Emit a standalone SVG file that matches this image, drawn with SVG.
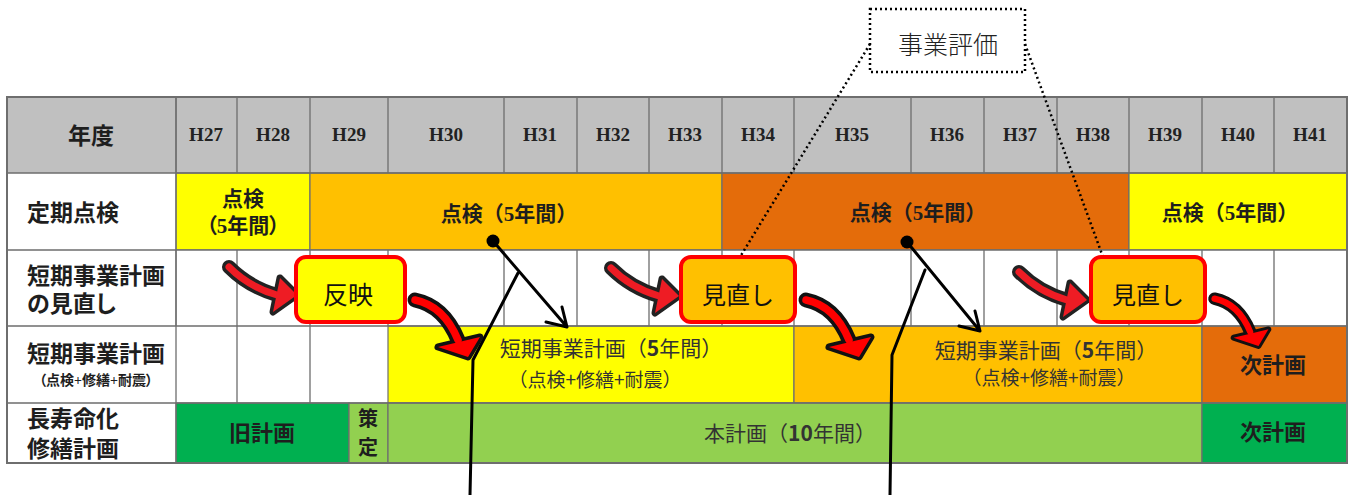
<svg xmlns="http://www.w3.org/2000/svg" xmlns:xlink="http://www.w3.org/1999/xlink" width="1351" height="495" viewBox="0 0 1351 495">
<style>
.bg{fill:#ffffff}
.cell{stroke:#6e6e6e;stroke-width:1.2}
.grid{stroke:#6e6e6e;stroke-width:1.3;fill:none}
.gray{fill:#c0c0c0}
.yel{fill:#ffff00}
.org{fill:#ffc000}
.dor{fill:#e46c0a}
.dgr{fill:#00b050}
.lgr{fill:#92d050}
.wht{fill:#ffffff}
.hdr{font-family:"Liberation Serif",serif;font-size:19px;font-weight:bold;fill:#222;text-anchor:middle}
.lbl{font-family:"Liberation Serif","Noto Sans CJK JP",serif;font-weight:bold;font-size:23px;fill:#1e1e1e;font-feature-settings:"palt"}
.blk{font-family:"Liberation Serif","Noto Sans CJK JP",serif;font-weight:bold;font-size:21px;fill:#1e1e1e;text-anchor:middle}
.palt{font-feature-settings:"palt"}
.sans{font-family:"Noto Sans CJK JP",sans-serif;fill:#333;text-anchor:middle}
.box{stroke:#ff0000;stroke-width:4}
.boxt{font-family:"Noto Sans CJK JP",sans-serif;font-size:24px;fill:#111;text-anchor:middle}
.ln{stroke:#000;stroke-width:3;fill:none;stroke-linejoin:round;stroke-linecap:round}
.dot{stroke:#000;stroke-width:2.5;fill:none;stroke-dasharray:2 3}
</style>
<defs>
<g id="sArrow">
<path d="M4 2 Q24 22 52 30" fill="none" stroke="#222" stroke-width="14" stroke-linecap="round"/>
<polygon points="55,13 72,30 48,47" fill="#222" stroke="#222" stroke-width="7" stroke-linejoin="round"/>
<path d="M4 2 Q24 22 52 30" fill="none" stroke="#ee1c24" stroke-width="7" stroke-linecap="round"/>
<polygon points="55,13 72,30 48,47" fill="#ee1c24"/>
</g>
<g id="bArrow">
<path d="M3 2 Q32 8 46 42" fill="none" stroke="#111" stroke-width="15" stroke-linecap="round"/>
<polygon points="26,49 68,39 56,59" fill="#111" stroke="#111" stroke-width="7" stroke-linejoin="round"/>
<path d="M3 2 Q32 8 46 42" fill="none" stroke="#ff0000" stroke-width="7.5" stroke-linecap="round"/>
<polygon points="26,49 68,39 56,59" fill="#ff0000"/>
</g>
</defs>
<rect class="bg" x="0" y="0" width="1351" height="495"/>

<g id="header">
<rect class="gray" x="7" y="97" width="1340" height="76"/>
<text class="lbl" x="91" y="144" text-anchor="middle">年度</text>
<text class="hdr" x="206" y="141">H27</text>
<text class="hdr" x="273" y="141">H28</text>
<text class="hdr" x="349" y="141">H29</text>
<text class="hdr" x="446" y="141">H30</text>
<text class="hdr" x="540" y="141">H31</text>
<text class="hdr" x="613" y="141">H32</text>
<text class="hdr" x="685" y="141">H33</text>
<text class="hdr" x="758" y="141">H34</text>
<text class="hdr" x="852" y="141">H35</text>
<text class="hdr" x="947" y="141">H36</text>
<text class="hdr" x="1020" y="141">H37</text>
<text class="hdr" x="1093" y="141">H38</text>
<text class="hdr" x="1165" y="141">H39</text>
<text class="hdr" x="1238" y="141">H40</text>
<text class="hdr" x="1310" y="141">H41</text>
<path class="grid" d="M176 97V173M237 97V173M310 97V173M388 97V173M504 97V173M577 97V173M649 97V173M722 97V173M794 97V173M911 97V173M984 97V173M1057 97V173M1129 97V173M1202 97V173M1274 97V173"/>
</g>

<g id="row-teiki">
<text class="lbl" x="27" y="221">定期点検</text>
<g id="teiki-1">
<rect class="yel cell" x="176" y="173" width="134" height="77"/>
<text class="blk palt" x="243" y="206">点検</text>
<text class="blk palt" x="243" y="233">（5年間）</text>
</g>
<g id="teiki-2">
<rect class="org cell" x="310" y="173" width="412" height="77"/>
<text class="blk" x="509" y="221">点検（5年間）</text>
</g>
<g id="teiki-3">
<rect class="dor cell" x="722" y="173" width="407" height="77"/>
<text class="blk" x="918" y="220">点検（5年間）</text>
</g>
<g id="teiki-4">
<rect class="yel cell" x="1129" y="173" width="218" height="77"/>
<text class="blk" x="1230" y="220">点検（5年間）</text>
</g>
</g>

<g id="row-minaoshi">
<text class="lbl" x="27" y="284">短期事業計画</text>
<text class="lbl" x="27" y="312">の見直し</text>
<rect class="wht" x="176" y="250" width="1171" height="76"/>
<path class="grid" d="M176 250V326M237 250V326M310 250V326M388 250V326M504 250V326M577 250V326M649 250V326M722 250V326M794 250V326M911 250V326M984 250V326M1057 250V326M1129 250V326M1202 250V326M1274 250V326"/>
</g>

<g id="row-tanki">
<text class="lbl" x="27" y="362">短期事業計画</text>
<text class="lbl" x="96" y="385" text-anchor="middle" style="font-size:14px">（点検+修繕+耐震）</text>
<rect class="wht" x="176" y="326" width="212" height="77"/>
<path class="grid" d="M237 326V403M310 326V403"/>
<g id="tanki-1">
<rect class="yel cell" x="388" y="326" width="406" height="77"/>
<text class="sans" x="611" y="356" style="font-size:21px">短期事業計画（<tspan font-weight="bold">5</tspan>年間）</text>
<text class="sans" x="595" y="387" style="font-size:19px">（点検+修繕+耐震）</text>
</g>
<g id="tanki-2">
<rect class="org cell" x="794" y="326" width="408" height="77"/>
<text class="sans" x="1046" y="358" style="font-size:21px">短期事業計画（<tspan font-weight="bold">5</tspan>年間）</text>
<text class="sans" x="1049" y="385" style="font-size:19px">（点検+修繕+耐震）</text>
</g>
<g id="tanki-3">
<rect class="dor cell" x="1202" y="326" width="145" height="77"/>
<text class="blk" x="1273" y="373" style="font-size:22px">次計画</text>
</g>
</g>

<g id="row-chouju">
<text class="lbl" x="27" y="427">長寿命化</text>
<text class="lbl" x="27" y="457">修繕計画</text>
<g id="chouju-old">
<rect class="dgr cell" x="176" y="403" width="173" height="60"/>
<text class="blk" x="262" y="441" style="font-size:22px">旧計画</text>
</g>
<g id="chouju-sakutei">
<rect class="lgr cell" x="349" y="403" width="39" height="60"/>
<text class="blk" x="368" y="426" style="font-size:20px">策</text>
<text class="blk" x="368" y="455" style="font-size:20px">定</text>
</g>
<g id="chouju-main">
<rect class="lgr cell" x="388" y="403" width="814" height="60"/>
<text class="sans" x="790" y="441" style="font-size:21px">本計画（<tspan font-weight="bold">10</tspan>年間）</text>
</g>
<g id="chouju-next">
<rect class="dgr cell" x="1202" y="403" width="145" height="60"/>
<text class="blk" x="1273" y="440" style="font-size:22px">次計画</text>
</g>
</g>

<g id="table-lines">
<path class="grid" d="M7 173H1347M7 250H1347M7 326H1347M7 403H1347M176 97V463"/>
<rect x="7" y="97" width="1340" height="366" fill="none" stroke="#6e6e6e" stroke-width="2"/>
</g>

<g id="connectors">
<line class="dot" x1="870" y1="44" x2="740" y2="257"/>
<line class="dot" x1="1025" y1="44" x2="1103" y2="257"/>
<circle cx="493" cy="241" r="6.5" fill="#000"/>
<path class="ln" d="M493 241L567 327M546 322L567 327L562 307"/>
<path class="ln" d="M518 273L473 360L470 495"/>
<circle cx="907" cy="242" r="6.5" fill="#000"/>
<path class="ln" d="M907 242L980 331M959 326L980 331L975 311"/>
<path class="ln" d="M925 270L892 355L890 495"/>
<use xlink:href="#sArrow" href="#sArrow" transform="translate(225,265)"/>
<use xlink:href="#sArrow" href="#sArrow" transform="translate(607,266)"/>
<use xlink:href="#sArrow" href="#sArrow" transform="translate(1015,270)"/>
<use xlink:href="#bArrow" href="#bArrow" transform="translate(412,298)"/>
<use xlink:href="#bArrow" href="#bArrow" transform="translate(803,298)"/>
<use xlink:href="#bArrow" href="#bArrow" transform="translate(1212,297) scale(0.83)"/>
</g>

<g id="hyouka">
<rect x="870" y="9" width="155" height="63" fill="#fff" class="dot"/>
<text class="sans" x="948" y="54" style="font-size:25px;font-weight:300;fill:#222">事業評価</text>
</g>
<g id="box-hanei">
<rect class="box" x="296" y="257" width="109" height="65" rx="10" fill="#ffff00"/>
<text class="boxt" x="348" y="304" style="font-size:25px">反映</text>
</g>
<g id="box-minaoshi-1">
<rect class="box" x="681" y="257" width="114" height="65" rx="10" fill="#ffc000"/>
<text class="boxt" x="738" y="304">見直し</text>
</g>
<g id="box-minaoshi-2">
<rect class="box" x="1091" y="257" width="114" height="65" rx="10" fill="#ffc000"/>
<text class="boxt" x="1148" y="304">見直し</text>
</g>
</svg>
